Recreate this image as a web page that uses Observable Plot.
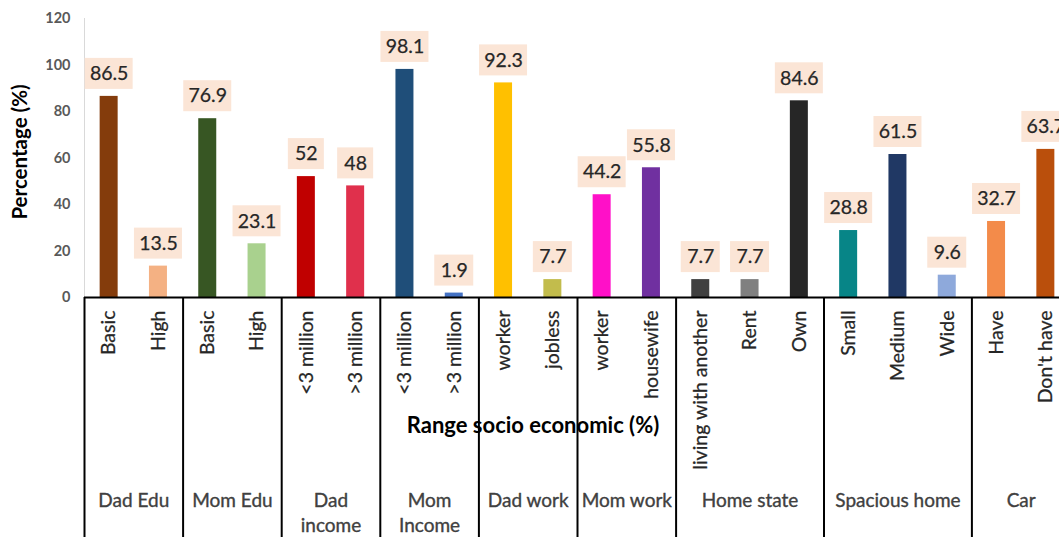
<!DOCTYPE html>
<html><head><meta charset="utf-8">
<script src="https://cdn.jsdelivr.net/npm/d3@7"></script>
<script src="https://cdn.jsdelivr.net/npm/@observablehq/plot@0.6"></script>
<style>body{margin:0;background:#fff;overflow:hidden}</style>
</head><body><div id="chart"></div>
<script>
const categories = ["Basic","High","Basic","High","<3 million",">3 million","<3 million",">3 million","worker","jobless","worker","housewife","living with another","Rent","Own","Small","Medium","Wide","Have","Don't have"];
const groups = ["Dad Edu","Dad Edu","Mom Edu","Mom Edu","Dad\nincome","Dad\nincome","Mom\nIncome","Mom\nIncome","Dad work","Dad work","Mom work","Mom work","Home state","Home state","Home state","Spacious home","Spacious home","Spacious home","Car","Car"];
const values = [86.5,13.5,76.9,23.1,52,48,98.1,1.9,92.3,7.7,44.2,55.8,7.7,7.7,84.6,28.8,61.5,9.6,32.7,63.7];
const colors = ["#843C0C","#F4B183","#375623","#A9D18E","#C00000","#E0304C","#1F4E79","#4472C4","#FFC000","#C2BC4C","#FF10C8","#7030A0","#404040","#808080","#262626","#078587","#203864","#8EA9DB","#F38B4A","#BA4F0C"];
const yTicks = [0,20,40,60,80,100,120];
const yTitle = "Percentage (%)";
const xTitle = "Range socio economic (%)";

const data = categories.map((c,i)=>({i, label:c, group:groups[i], value:values[i], color:colors[i], text:String(values[i])}));
const groupList = [];
data.forEach(d=>{
  let g = groupList.find(g=>g.name===d.group);
  if(!g){ groupList.push({name:d.group, first:d.i, last:d.i}); } else g.last = d.i;
});
const seps = groupList.map(g=>g.first-0.5);

const W=1059, H=537, mL=84, mT=18, mB=240, xRight=1070;
const pxPerUnit = (H-mT-mB)/120;
const yBottom = -mB/pxPerUnit - 2;
const bw = (xRight-mL)/categories.length;
const boxW = {2:36, 3:39, 4:48};

const xs = {x1:d=>d.i-0.5, x2:d=>d.i+0.5};
const boxMarks = [2,3,4].map(L => Plot.rectY(data.filter(d=>d.text.length===L), {
  ...xs, y1:d=>d.value + 7/pxPerUnit, y2:d=>d.value + 38/pxPerUnit,
  fill:"#FBE5D6", insetLeft:(bw-boxW[L])/2, insetRight:(bw-boxW[L])/2
}));

const chart = Plot.plot({
  width:W, height:H, marginLeft:mL, marginRight:0, marginTop:mT, marginBottom:mB,
  x:{domain:[-0.5, categories.length-0.5], range:[mL, xRight], axis:null},
  y:{domain:[0,120], axis:null},
  color:{type:"identity"},
  style:{fontFamily:"Lato, sans-serif", background:"#fff"},
  marks:[
    Plot.ruleX([-0.5], {y1:0, y2:120, stroke:"#d9d9d9", strokeWidth:1}),
    Plot.rectY(data, {...xs, y1:0, y2:"value", fill:"color", insetLeft:(bw-18)/2, insetRight:(bw-18)/2}),
    ...boxMarks,
    Plot.text(data, {x:"i", y:"value", text:"text", dy:-22.5, fontSize:19.5, fill:"#262626", stroke:"#262626", strokeWidth:0.25}),
    Plot.ruleX(seps, {y1:0, y2:yBottom, stroke:"#000", strokeWidth:2}),
    Plot.ruleY([0], {stroke:"#000", strokeWidth:2}),
    Plot.axisY(yTicks, {tickSize:0, tickPadding:14, fontSize:14.5, fontWeight:"bold", color:"#595959", label:null}),
    Plot.text(data, {x:"i", text:"label", frameAnchor:"bottom", dy:13, rotate:-90, textAnchor:"end", lineAnchor:"middle", fontSize:19.5, fill:"#262626", stroke:"#262626", strokeWidth:0.25}),
    Plot.text(groupList, {x:g=>(g.first+g.last)/2, text:"name", frameAnchor:"bottom", dy:192, lineAnchor:"top", lineHeight:1.3, fontSize:19, fill:"#404040", stroke:"#404040", strokeWidth:0.35}),
    Plot.text([yTitle], {text:d=>d, frameAnchor:"left", textAnchor:"middle", dx:-64, dy:-6, rotate:-90, fontSize:20.5, fontWeight:"bold", fill:"#000"}),
    Plot.text([xTitle], {text:d=>d, frameAnchor:"bottom", textAnchor:"middle", dx:-39, dy:135, fontSize:22, fontWeight:"bold", fill:"#000"})
  ]
});
document.getElementById("chart").appendChild(chart);
</script></body></html>
